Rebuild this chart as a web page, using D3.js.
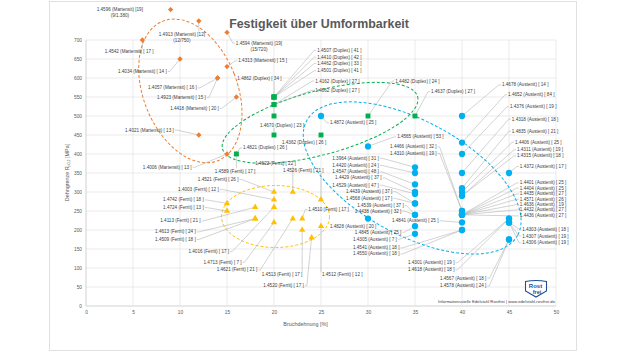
<!DOCTYPE html>
<html>
<head>
<meta charset="utf-8">
<script src="https://cdn.jsdelivr.net/npm/d3@7"></script>
<style>
body { margin: 0; background: #fff; }
svg text { font-family: "Liberation Sans", Arial, sans-serif; }
</style>
</head>
<body>
<svg id="chart" width="626" height="352"></svg>
<script>
// code, bracket value, elongation A [%], Rp0.2 [MPa]
const martensit = [
    { code: "1.4596", n: 19, a: 9, rp: 780, note: "(9/1.380)" },
    { code: "1.4913", n: 12, a: 12, rp: 750, note: "(12/750)" },
    { code: "1.4594", n: 19, a: 15, rp: 720, note: "(15/720)" },
    { code: "1.4542", n: 17, a: 6, rp: 700 },
    { code: "1.4034", n: 14, a: 10, rp: 650 },
    { code: "1.4313", n: 15, a: 15, rp: 630 },
    { code: "1.4057", n: 16, a: 14, rp: 600 },
    { code: "1.4923", n: 15, a: 14, rp: 600 },
    { code: "1.4418", n: 20, a: 16, rp: 550 },
    { code: "1.4021", n: 13, a: 12, rp: 450 },
    { code: "1.4006", n: 13, a: 15, rp: 400 }
];

const duplex = [
    { code: "1.4507", n: 41, a: 20, rp: 550 },
    { code: "1.4410", n: 42, a: 20, rp: 550 },
    { code: "1.4462", n: 33, a: 20, rp: 550 },
    { code: "1.4501", n: 41, a: 20, rp: 550 },
    { code: "1.4162", n: 27, a: 20, rp: 530 },
    { code: "1.4062", n: 27, a: 20, rp: 530 },
    { code: "1.4862", n: 34, a: 20, rp: 500 },
    { code: "1.4482", n: 24, a: 30, rp: 500 },
    { code: "1.4637", n: 27, a: 35, rp: 500 },
    { code: "1.4670", n: 23, a: 20, rp: 450 },
    { code: "1.4362", n: 26, a: 25, rp: 450 },
    { code: "1.4821", n: 26, a: 16, rp: 400 }
];

const ferrit = [
    { code: "1.4622", n: 22, a: 22, rp: 300 },
    { code: "1.4526", n: 21, a: 25, rp: 280 },
    { code: "1.4589", n: 17, a: 16, rp: 400 },
    { code: "1.4521", n: 26, a: 20, rp: 300 },
    { code: "1.4003", n: 12, a: 20, rp: 280 },
    { code: "1.4742", n: 18, a: 15, rp: 270 },
    { code: "1.4724", n: 13, a: 15, rp: 250 },
    { code: "1.4113", n: 21, a: 18, rp: 260 },
    { code: "1.4613", n: 24, a: 18, rp: 230 },
    { code: "1.4509", n: 18, a: 18, rp: 230 },
    { code: "1.4016", n: 17, a: 20, rp: 260 },
    { code: "1.4713", n: 7, a: 20, rp: 220 },
    { code: "1.4621", n: 21, a: 22, rp: 230 },
    { code: "1.4510", n: 17, a: 23, rp: 230 },
    { code: "1.4513", n: 17, a: 23, rp: 200 },
    { code: "1.4520", n: 17, a: 24, rp: 180 },
    { code: "1.4512", n: 12, a: 25, rp: 210 }
];

const austenit = [
    { code: "1.4872", n: 25, a: 25, rp: 500 },
    { code: "1.4565", n: 53, a: 30, rp: 420 },
    { code: "1.4466", n: 32, a: 40, rp: 250 },
    { code: "1.4310", n: 19, a: 40, rp: 250 },
    { code: "1.3964", n: 31, a: 35, rp: 365 },
    { code: "1.4420", n: 24, a: 35, rp: 350 },
    { code: "1.4547", n: 48, a: 35, rp: 320 },
    { code: "1.4429", n: 37, a: 35, rp: 300 },
    { code: "1.4529", n: 47, a: 35, rp: 295 },
    { code: "1.4439", n: 37, a: 35, rp: 270 },
    { code: "1.4568", n: 17, a: 35, rp: 270 },
    { code: "1.4539", n: 37, a: 35, rp: 240 },
    { code: "1.4438", n: 32, a: 35, rp: 240 },
    { code: "1.4845", n: 25, a: 35, rp: 210 },
    { code: "1.4305", n: 7, a: 35, rp: 190 },
    { code: "1.4541", n: 18, a: 40, rp: 200 },
    { code: "1.4550", n: 18, a: 40, rp: 200 },
    { code: "1.4828", n: 20, a: 30, rp: 230 },
    { code: "1.4841", n: 25, a: 40, rp: 220 },
    { code: "1.4301", n: 19, a: 45, rp: 230 },
    { code: "1.4618", n: 18, a: 45, rp: 230 },
    { code: "1.4567", n: 18, a: 45, rp: 175 },
    { code: "1.4578", n: 24, a: 45, rp: 175 },
    { code: "1.4678", n: 14, a: 40, rp: 500 },
    { code: "1.4652", n: 84, a: 40, rp: 430 },
    { code: "1.4376", n: 19, a: 40, rp: 400 },
    { code: "1.4318", n: 18, a: 40, rp: 350 },
    { code: "1.4835", n: 21, a: 40, rp: 310 },
    { code: "1.4406", n: 25, a: 40, rp: 300 },
    { code: "1.4311", n: 19, a: 40, rp: 290 },
    { code: "1.4315", n: 18, a: 40, rp: 290 },
    { code: "1.4372", n: 17, a: 45, rp: 350 },
    { code: "1.4401", n: 25, a: 40, rp: 240 },
    { code: "1.4404", n: 25, a: 40, rp: 240 },
    { code: "1.4435", n: 27, a: 40, rp: 240 },
    { code: "1.4571", n: 26, a: 40, rp: 240 },
    { code: "1.4636", n: 19, a: 40, rp: 240 },
    { code: "1.4432", n: 27, a: 40, rp: 240 },
    { code: "1.4436", n: 27, a: 40, rp: 240 },
    { code: "1.4303", n: 18, a: 45, rp: 220 },
    { code: "1.4307", n: 19, a: 45, rp: 220 },
    { code: "1.4306", n: 19, a: 45, rp: 220 }
];

const xTicks = d3.range(0, 51, 5);
const yTicks = d3.range(0, 701, 50);

// where each data label sits (axis units: left edge, middle of text)
const labelAt = {
    "1.4596": [3.6, 781], "1.4913": [10.2, 715], "1.4594": [18.4, 692],
    "1.4542": [2.0, 669], "1.4034": [3.4, 617], "1.4313": [16.2, 645],
    "1.4057": [6.6, 574], "1.4923": [7.55, 548], "1.4418": [8.95, 520],
    "1.4021": [4.15, 463], "1.4006": [6.05, 365],
    "1.4507": [24.6, 673], "1.4410": [24.6, 655], "1.4462": [24.6, 638],
    "1.4501": [24.6, 619], "1.4162": [24.4, 592], "1.4062": [24.4, 568],
    "1.4862": [16.1, 600], "1.4482": [32.9, 592], "1.4637": [36.7, 564],
    "1.4670": [18.5, 476], "1.4362": [20.85, 431], "1.4821": [16.7, 416],
    "1.4622": [18.0, 375], "1.4526": [20.95, 357], "1.4589": [13.7, 355],
    "1.4521": [11.9, 333], "1.4003": [9.8, 307], "1.4742": [8.2, 279],
    "1.4724": [8.2, 259], "1.4113": [7.9, 224], "1.4613": [7.35, 195],
    "1.4509": [7.35, 175], "1.4016": [10.9, 143], "1.4713": [12.5, 115],
    "1.4621": [13.9, 95], "1.4510": [23.65, 254], "1.4513": [18.7, 83],
    "1.4520": [18.85, 53], "1.4512": [25.1, 83],
    "1.4872": [25.95, 482], "1.4565": [33.1, 445], "1.4466": [32.35, 419],
    "1.4310": [32.35, 402], "1.3964": [26.2, 389], "1.4420": [26.2, 370],
    "1.4547": [26.2, 353], "1.4429": [26.5, 337], "1.4529": [26.2, 318],
    "1.4439": [27.65, 301], "1.4568": [27.65, 283], "1.4539": [28.85, 264],
    "1.4438": [28.6, 250], "1.4845": [28.6, 194], "1.4305": [28.4, 176],
    "1.4541": [28.4, 153], "1.4550": [28.4, 137], "1.4828": [25.95, 210],
    "1.4841": [32.55, 224], "1.4301": [34.25, 114], "1.4618": [34.25, 95],
    "1.4567": [37.65, 73], "1.4578": [37.65, 53],
    "1.4678": [44.25, 582], "1.4652": [44.9, 556], "1.4376": [45.1, 524],
    "1.4318": [45.3, 492], "1.4835": [45.3, 460], "1.4406": [45.65, 431],
    "1.4311": [45.85, 411], "1.4315": [45.85, 395], "1.4372": [46.15, 367],
    "1.4401": [46.15, 324], "1.4404": [46.15, 310], "1.4435": [46.15, 295],
    "1.4571": [46.15, 281], "1.4636": [46.15, 267], "1.4432": [46.15, 253],
    "1.4436": [46.15, 237], "1.4303": [46.4, 202], "1.4307": [46.4, 184],
    "1.4306": [46.4, 166]
};
// two-line labels are centred on their x
const centred = new Set(["1.4596", "1.4913", "1.4594"]);
const noLeader = new Set(["1.4596"]);

const groups = [
    { name: "Ferrit", rows: ferrit, color: "#FFC000", symbol: d3.symbolTriangle, size: 17, rotate: 0,
      ring: { cx: 20.16, cy: 235.5, rx: 54, ry: 31, angle: 0 } },
    { name: "Austenit", rows: austenit, color: "#00B0F0", symbol: d3.symbolCircle, size: 31, rotate: 0,
      ring: { cx: 34.7, cy: 337, rx: 120, ry: 57, angle: 28.5 } },
    { name: "Martensit", rows: martensit, color: "#ED7D31", symbol: d3.symbolSquare, size: 14, rotate: 45,
      ring: { cx: 11.1, cy: 566, rx: 47, ry: 75, angle: -21.5 } },
    { name: "Duplex", rows: duplex, color: "#00B050", symbol: d3.symbolSquare, size: 24, rotate: 0,
      ring: { cx: 24.9, cy: 482, rx: 101, ry: 32, angle: -15 } }
];

const svg = d3.select("#chart");
const x = d3.scaleLinear().domain([0, 50]).range([86, 556]);
const y = d3.scaleLinear().domain([0, 700]).range([306, 40]);

// outer frame
svg.append("rect")
    .attr("x", 49.5).attr("y", 1.5)
    .attr("width", 527).attr("height", 349)
    .attr("fill", "#fff").attr("stroke", "#d9d9d9").attr("stroke-width", 0.8);

// grid
const grid = svg.append("g");
grid.selectAll(".hg").data(yTicks).join("line")
    .attr("x1", x(0)).attr("x2", x(50))
    .attr("y1", d => y(d)).attr("y2", d => y(d))
    .attr("stroke", d => d === 0 ? "#bfbfbf" : "#e3e3e3").attr("stroke-width", 0.7);
grid.selectAll(".vg").data(xTicks).join("line")
    .attr("x1", d => x(d)).attr("x2", d => x(d))
    .attr("y1", y(0)).attr("y2", y(700))
    .attr("stroke", d => d === 0 ? "#bfbfbf" : "#e3e3e3").attr("stroke-width", 0.7);

// axes
const xAxis = svg.append("g")
    .attr("transform", `translate(0,${y(0)})`)
    .call(d3.axisBottom(x).tickValues(xTicks).tickSize(0).tickPadding(5));
const yAxis = svg.append("g")
    .attr("transform", `translate(${x(0)},0)`)
    .call(d3.axisLeft(y).tickValues(yTicks).tickSize(0).tickPadding(4));
[xAxis, yAxis].forEach(g => {
    g.select(".domain").remove();
    g.selectAll("text")
        .attr("fill", "#595959")
        .style("font-size", "4.8px")
        .style("font-family", "'Liberation Sans', Arial, sans-serif");
});

svg.append("text")
    .attr("x", 305.5).attr("y", 326)
    .attr("text-anchor", "middle")
    .attr("fill", "#595959").style("font-size", "5.4px")
    .text("Bruchdehnung [%]");

const yTitle = svg.append("text")
    .attr("transform", "translate(68.5,172.5) rotate(-90)")
    .attr("text-anchor", "middle")
    .attr("fill", "#595959").style("font-size", "5.4px");
yTitle.append("tspan").text("Dehngrenze R");
yTitle.append("tspan").attr("dy", 1.2).style("font-size", "3.6px").text("p0,2");
yTitle.append("tspan").attr("dy", -1.2).text(" [MPa]");

// title
svg.append("text")
    .attr("x", 319).attr("y", 27.5)
    .attr("text-anchor", "middle")
    .attr("fill", "#595959")
    .style("font-size", "12.4px").style("font-weight", "bold")
    .text("Festigkeit über Umformbarkeit");

// footer + logo
svg.append("text")
    .attr("x", 555).attr("y", 302.5)
    .attr("text-anchor", "end")
    .attr("fill", "#404040").style("font-size", "4.2px")
    .text("Informationsstelle Edelstahl Rostfrei | www.edelstahl-rostfrei.de");

const logo = svg.append("g").attr("transform", "translate(525,280)");
logo.append("path")
    .attr("d", "M0.5,1.5 Q11,-0.5 21.5,1.5 L21.5,11 L11,17 L0.5,11 Z")
    .attr("fill", "#fff").attr("stroke", "#1f4e9a").attr("stroke-width", 1.1);
logo.append("text").attr("x", 10.5).attr("y", 7.6).attr("text-anchor", "middle")
    .attr("fill", "#1f4e9a").style("font-size", "6px").style("font-weight", "bold").text("Rost");
logo.append("text").attr("x", 12).attr("y", 13.6).attr("text-anchor", "middle")
    .attr("fill", "#1f4e9a").style("font-size", "5.6px").style("font-weight", "bold").text("frei");

// group rings
svg.append("g").selectAll("ellipse")
    .data(groups)
    .join("ellipse")
    .attr("cx", 0).attr("cy", 0)
    .attr("rx", d => d.ring.rx).attr("ry", d => d.ring.ry)
    .attr("transform", d => `translate(${x(d.ring.cx)},${y(d.ring.cy)}) rotate(${d.ring.angle})`)
    .attr("fill", "none")
    .attr("stroke", d => d.color)
    .attr("stroke-width", 1)
    .attr("stroke-dasharray", "3,2");

const rows = groups.flatMap(g => g.rows.map(r => ({ ...r, group: g })));

const labelText = d => centred.has(d.code)
    ? `${d.code} (${d.group.name}) [${d.n}]`
    : `${d.code} (${d.group.name}) [ ${d.n} ]`;

// labels first (to measure), leaders drawn underneath
const leaderLayer = svg.append("g");
const markLayer = svg.append("g");
const labelLayer = svg.append("g");

const labels = labelLayer.selectAll("g")
    .data(rows)
    .join("g");

labels.each(function (d) {
    const g = d3.select(this);
    const [lx, ly] = labelAt[d.code];
    const t = g.append("text")
        .attr("x", x(lx)).attr("y", y(ly))
        .attr("dominant-baseline", "central")
        .attr("text-anchor", centred.has(d.code) ? "middle" : "start")
        .attr("fill", "#404040")
        .style("font-size", "4.6px")
        .text(labelText(d));
    if (d.note) {
        g.append("text")
            .attr("x", x(lx)).attr("y", y(ly) + 6.6)
            .attr("dominant-baseline", "central")
            .attr("text-anchor", "middle")
            .attr("fill", "#404040")
            .style("font-size", "4.6px")
            .text(d.note);
    }
    const w = t.node().getComputedTextLength();
    const x0 = centred.has(d.code) ? x(lx) - w / 2 : x(lx);
    d.box = { x0: x0, x1: x0 + w, yc: y(ly) };
});

const leaderPath = d => {
    const px = x(d.a), py = y(d.rp);
    const b = d.box;
    let pts;
    if (px > b.x1 + 1) {
        pts = [[b.x1 + 1, b.yc], [b.x1 + 3, b.yc], [px, py]];
    } else if (px < b.x0 - 1) {
        pts = [[b.x0 - 1, b.yc], [b.x0 - 3, b.yc], [px, py]];
    } else {
        const yy = py < b.yc ? b.yc - 2.6 : b.yc + 2.6;
        pts = [[px, yy], [px, py]];
    }
    const dist = Math.hypot(pts[0][0] - px, pts[0][1] - py);
    return dist < 5 ? null : d3.line()(pts);
};

leaderLayer.selectAll("path")
    .data(rows.filter(d => !noLeader.has(d.code)))
    .join("path")
    .attr("d", leaderPath)
    .attr("fill", "none")
    .attr("stroke", "#a6a6a6")
    .attr("stroke-width", 0.5);

markLayer.selectAll("path")
    .data(rows)
    .join("path")
    .attr("d", d => d3.symbol(d.group.symbol, d.group.size)())
    .attr("transform", d => `translate(${x(d.a)},${y(d.rp)}) rotate(${d.group.rotate})`)
    .attr("fill", d => d.group.color);
</script>
</body>
</html>
